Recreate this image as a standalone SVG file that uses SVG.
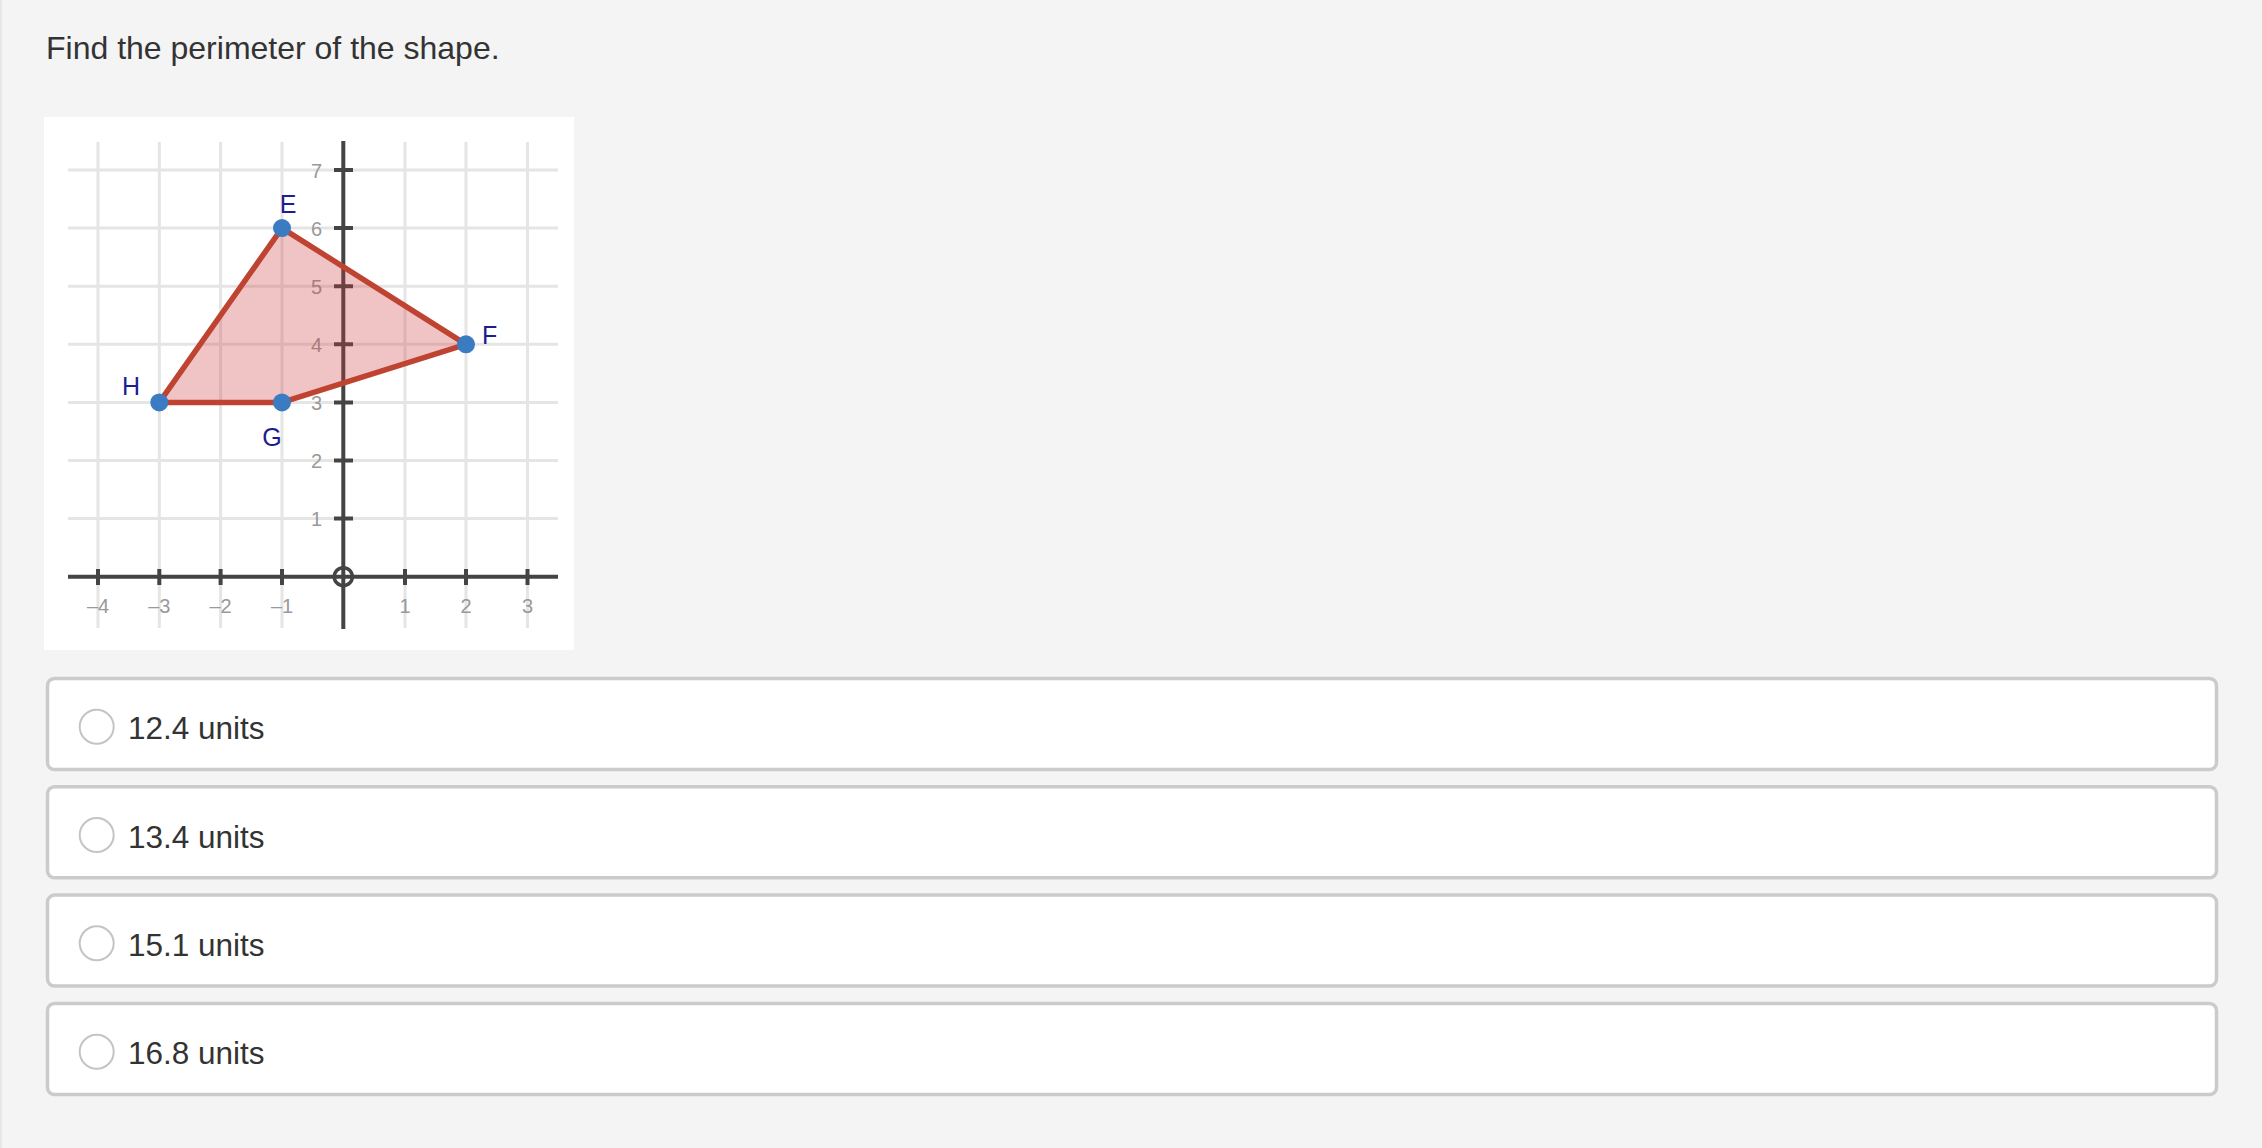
<svg xmlns="http://www.w3.org/2000/svg" width="2262" height="1148" viewBox="0 0 2262 1148">
<style>
.title{font-family:"Liberation Sans",Arial,sans-serif;font-size:32px;fill:#333}
.grid line{stroke:#e5e5e5;stroke-width:3}
.axis{stroke:#444;stroke-width:4;fill:none}
.tick{font-family:"Liberation Sans",Arial,sans-serif;font-size:20px;fill:#999}
.ptlabel{font-family:"Liberation Sans",Arial,sans-serif;font-size:25px;fill:#1d1d8f}
.pt{fill:#3a7bc1}
.box{fill:#fff;stroke:#cbcbcb;stroke-width:3.5}
.radio{fill:#fff;stroke:#c4c4c4;stroke-width:2}
.ans{font-family:"Liberation Sans",Arial,sans-serif;font-size:31.5px;fill:#333}
</style>
<rect x="0" y="0" width="2262" height="1148" fill="#f4f4f4"/>
<rect x="0" y="0" width="2" height="1148" fill="#e6e6e6"/>
<text class="title" x="46" y="59">Find the perimeter of the shape.</text>

<g id="graph">
<rect x="44" y="117" width="530" height="533" fill="#fff"/>
<g class="grid">
<line x1="98" y1="142" x2="98" y2="628"/>
<line x1="159.3" y1="142" x2="159.3" y2="628"/>
<line x1="220.6" y1="142" x2="220.6" y2="628"/>
<line x1="282" y1="142" x2="282" y2="628"/>
<line x1="405" y1="142" x2="405" y2="628"/>
<line x1="466" y1="142" x2="466" y2="628"/>
<line x1="527.5" y1="142" x2="527.5" y2="628"/>
<line x1="68" y1="170" x2="558" y2="170"/>
<line x1="68" y1="228.1" x2="558" y2="228.1"/>
<line x1="68" y1="286.2" x2="558" y2="286.2"/>
<line x1="68" y1="344.3" x2="558" y2="344.3"/>
<line x1="68" y1="402.4" x2="558" y2="402.4"/>
<line x1="68" y1="460.5" x2="558" y2="460.5"/>
<line x1="68" y1="518.6" x2="558" y2="518.6"/>
</g>
<g id="axes">
<line class="axis" x1="343.3" y1="141" x2="343.3" y2="629"/>
<line class="axis" x1="68" y1="576.7" x2="558" y2="576.7"/>
<path class="axis" d="M334,170H353M334,228.1H353M334,286.2H353M334,344.3H353M334,402.4H353M334,460.5H353M334,518.6H353"/>
<path class="axis" d="M98,569V585M159.3,569V585M220.6,569V585M282,569V585M405,569V585M466,569V585M527.5,569V585"/>
<circle cx="343.3" cy="576.7" r="9" fill="none" stroke="#444" stroke-width="3.5"/>
</g>
<g id="ticklabels">
<text class="tick" x="322" y="178" text-anchor="end">7</text>
<text class="tick" x="322" y="236" text-anchor="end">6</text>
<text class="tick" x="322" y="294" text-anchor="end">5</text>
<text class="tick" x="322" y="352" text-anchor="end">4</text>
<text class="tick" x="322" y="410" text-anchor="end">3</text>
<text class="tick" x="322" y="468" text-anchor="end">2</text>
<text class="tick" x="322" y="526" text-anchor="end">1</text>
<text class="tick" x="98" y="613" text-anchor="middle">–4</text>
<text class="tick" x="159.3" y="613" text-anchor="middle">–3</text>
<text class="tick" x="220.6" y="613" text-anchor="middle">–2</text>
<text class="tick" x="282" y="613" text-anchor="middle">–1</text>
<text class="tick" x="405" y="613" text-anchor="middle">1</text>
<text class="tick" x="466" y="613" text-anchor="middle">2</text>
<text class="tick" x="527.5" y="613" text-anchor="middle">3</text>
</g>
<g id="shape">
<polygon points="282,228.1 466,344.3 282,402.4 159.3,402.4" fill="#cc3b3b" fill-opacity="0.3" stroke="#bf4331" stroke-width="5.5" stroke-linejoin="round"/>
</g>
<g id="node-E"><circle class="pt" cx="282" cy="228.1" r="9"/><text class="ptlabel" x="288" y="213" text-anchor="middle">E</text></g>
<g id="node-F"><circle class="pt" cx="466" cy="344.3" r="9"/><text class="ptlabel" x="482" y="344">F</text></g>
<g id="node-G"><circle class="pt" cx="282" cy="402.4" r="9"/><text class="ptlabel" x="272" y="446" text-anchor="middle">G</text></g>
<g id="node-H"><circle class="pt" cx="159.3" cy="402.4" r="9"/><text class="ptlabel" x="131" y="395" text-anchor="middle">H</text></g>
</g>

<g id="answer-1">
<rect class="box" x="47.5" y="678.5" width="2169" height="91" rx="7"/>
<circle class="radio" cx="96.7" cy="726.7" r="17"/>
<text class="ans" x="128" y="739.3">12.4 units</text>
</g>
<g id="answer-2">
<rect class="box" x="47.5" y="786.8" width="2169" height="91" rx="7"/>
<circle class="radio" cx="96.7" cy="835" r="17"/>
<text class="ans" x="128" y="847.6">13.4 units</text>
</g>
<g id="answer-3">
<rect class="box" x="47.5" y="895.1" width="2169" height="91" rx="7"/>
<circle class="radio" cx="96.7" cy="943.3" r="17"/>
<text class="ans" x="128" y="955.9">15.1 units</text>
</g>
<g id="answer-4">
<rect class="box" x="47.5" y="1003.5" width="2169" height="91" rx="7"/>
<circle class="radio" cx="96.7" cy="1051.7" r="17"/>
<text class="ans" x="128" y="1064.2">16.8 units</text>
</g>
</svg>
